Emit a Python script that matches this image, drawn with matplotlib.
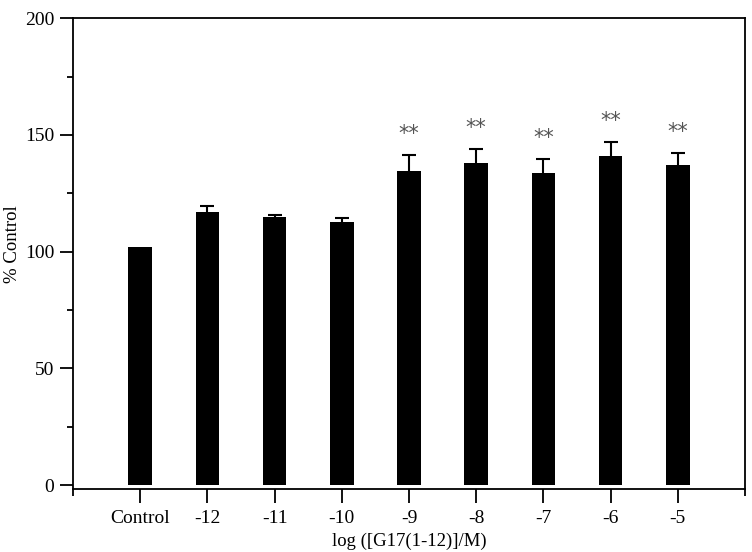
import matplotlib
matplotlib.use("Agg")
import matplotlib.pyplot as plt
import numpy as np

categories = ["Control", "-12", "-11", "-10", "-9", "-8", "-7", "-6", "-5"]
values = [102.0, 117.0, 114.8, 112.8, 134.7, 138.0, 133.8, 140.9, 137.1]
errors = [0.0, 2.5, 1.1, 1.7, 6.7, 6.0, 5.8, 6.0, 5.0]
stars = ["", "", "", "", "**", "**", "**", "**", "**"]
yticks = [0, 50, 100, 150, 200]

plt.rcParams['font.family'] = ['Liberation Serif', 'DejaVu Serif']

fig = plt.figure(figsize=(7.52, 5.52), dpi=100)
ax = fig.add_axes([73/752, 1 - 489/552, (745-73)/752, (489-18.3)/552])

x = np.arange(len(categories))
vals = np.array(values)
errs = np.array(errors)
ax.bar(x, vals, width=0.35, color='black', zorder=2)
has_err = errs > 0
tops = vals + errs
ax.vlines(x[has_err], vals[has_err], tops[has_err], colors='black', linewidth=1.5, zorder=1)
ax.hlines(tops[has_err], x[has_err] - 0.105, x[has_err] + 0.105, colors='black', linewidth=1.5, zorder=1)
for xi, t, s in zip(x, tops, stars):
    if s:
        ax.text(xi, t + 6.5, s, ha='center', va='baseline', fontsize=15,
                color='#555555', family='DejaVu Sans')

ax.set_xlim(-1, 9)
ax.set_ylim(-1.7, 200)
ax.set_yticks(yticks)
ax.set_yticks([25, 75, 125, 175], minor=True)
ax.set_xticks(x)
ax.set_xticklabels(categories)
ax.set_xticks([-1, 9], minor=True)

ax.tick_params(axis='y', which='major', direction='out', length=9.5, width=1.3, labelsize=14, pad=4)
ax.tick_params(axis='y', which='minor', direction='out', length=4.5, width=1.3)
ax.tick_params(axis='x', which='major', direction='out', length=10, width=1.3, labelsize=14, pad=5)
ax.tick_params(axis='x', which='minor', direction='out', length=5, width=1.3)
for sp in ax.spines.values():
    sp.set_linewidth(1.3)

ax.set_ylabel("% Control", fontsize=13.5)
ax.yaxis.set_label_coords(-0.077, 0.52)
ax.set_xlabel("log ([G17(1-12)]/M)", fontsize=13.5, labelpad=4)

fig.savefig("out.png", dpi=100)
